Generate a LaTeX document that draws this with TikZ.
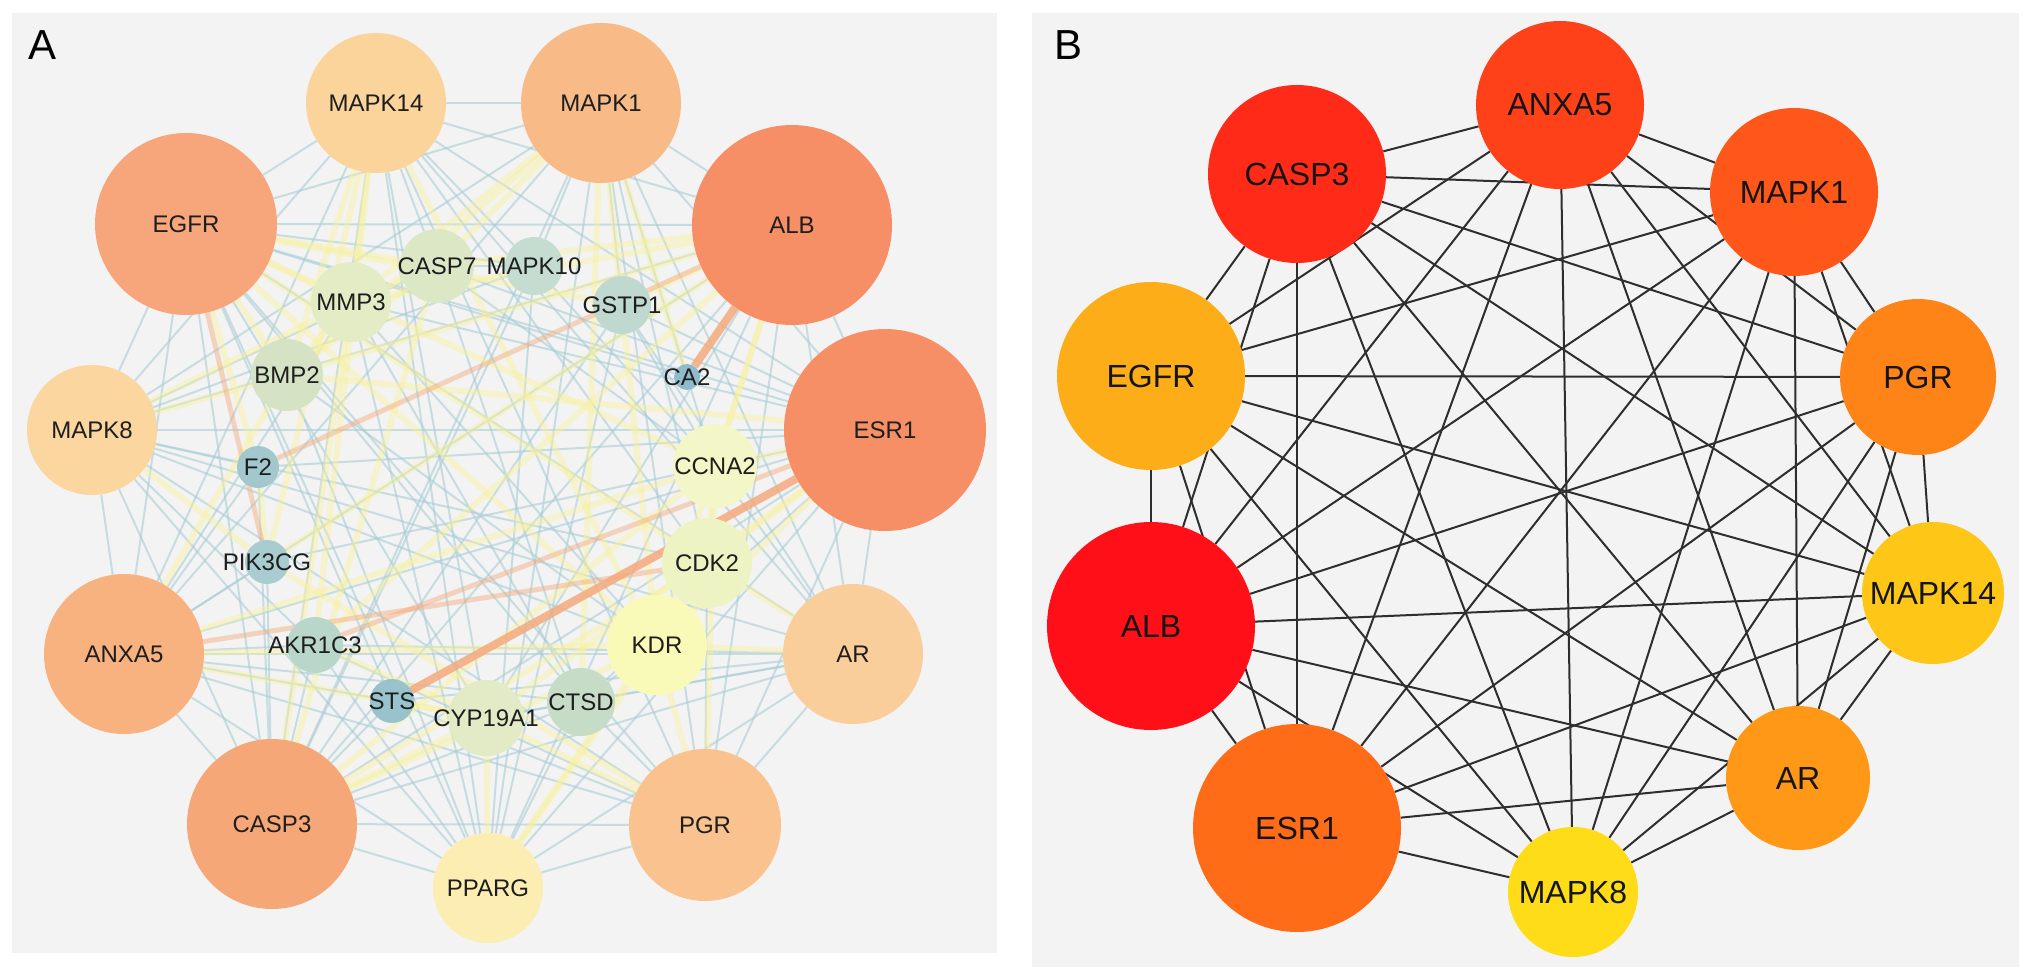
\documentclass[tikz,border=0pt]{standalone}
\usepackage{fontspec}
\setmainfont{Liberation Sans}

\pgfdeclarelayer{bg}
\pgfdeclarelayer{links}
\pgfsetlayers{bg,links,main}

% panel colours
\definecolor{panelgray}{HTML}{F3F3F3}
\definecolor{txtA}{HTML}{1E1E1E}
\definecolor{txtB}{HTML}{151515}
\definecolor{lkblue}{HTML}{A9CDD6}
\definecolor{lkyel}{HTML}{F8F19E}
\definecolor{lkora}{HTML}{F5AA7C}
\definecolor{lkdark}{HTML}{2E2E2E}
% panel A nodes
\definecolor{cMapkXIV}{HTML}{FBD49C}
\definecolor{cMapkI}{HTML}{F8BB88}
\definecolor{cAlb}{HTML}{F68F66}
\definecolor{cEsr}{HTML}{F68F66}
\definecolor{cAr}{HTML}{FACE9A}
\definecolor{cPgr}{HTML}{F9C28E}
\definecolor{cPparg}{HTML}{FCEDB2}
\definecolor{cCasp}{HTML}{F6A777}
\definecolor{cAnxa}{HTML}{F7B280}
\definecolor{cMapkVIII}{HTML}{FBD69E}
\definecolor{cEgfr}{HTML}{F6A67A}
\definecolor{cCaspVII}{HTML}{DCE7C6}
\definecolor{cMapkX}{HTML}{C4DDD0}
\definecolor{cMmp}{HTML}{E4ECC6}
\definecolor{cGstp}{HTML}{BFD9D1}
\definecolor{cBmp}{HTML}{D5E3C4}
\definecolor{cCa}{HTML}{8FBCCB}
\definecolor{cF}{HTML}{A2C8CE}
\definecolor{cCcna}{HTML}{F3F6C6}
\definecolor{cPik}{HTML}{A8CCD0}
\definecolor{cCdk}{HTML}{EEF3C4}
\definecolor{cKdr}{HTML}{FAFAB8}
\definecolor{cAkr}{HTML}{B9D6CA}
\definecolor{cSts}{HTML}{98C2CC}
\definecolor{cCyp}{HTML}{E2EBC6}
\definecolor{cCtsd}{HTML}{C6DCC6}
% panel B nodes
\definecolor{bAnxa}{HTML}{FF4119}
\definecolor{bCasp}{HTML}{FF2A17}
\definecolor{bMapkI}{HTML}{FF5719}
\definecolor{bEgfr}{HTML}{FDAD18}
\definecolor{bPgr}{HTML}{FF8418}
\definecolor{bAlb}{HTML}{FF1019}
\definecolor{bMapkXIV}{HTML}{FEC718}
\definecolor{bEsr}{HTML}{FF6C18}
\definecolor{bAr}{HTML}{FF9817}
\definecolor{bMapkVIII}{HTML}{FEDC18}

\newcommand{\nm}[1]{\makebox[0pt]{#1}}

\begin{document}
\begin{tikzpicture}[x=1pt,y=-1pt,
  gA/.style={circle, inner sep=0pt, minimum size=#1, text=txtA, font=\fontsize{24}{28}\selectfont},
  gB/.style={circle, inner sep=0pt, minimum size=#1, text=txtB, font=\fontsize{32}{38}\selectfont},
  panlab/.style={font=\fontsize{42}{50}\selectfont, text=black},
  lnkB/.style={draw=lkblue, line width=2pt, opacity=0.6},
  lnkY/.style={draw=lkyel, line width=6pt, opacity=0.45},
  lnkL/.style={draw=lkora, line width=5pt, opacity=0.45},
  lnkO/.style={draw=lkora, line width=8pt, opacity=0.85},
  lnkK/.style={draw=lkdark, line width=2pt}]

\useasboundingbox (0,0) rectangle (2031,979);
\begin{pgfonlayer}{bg}
\fill[white] (0,0) rectangle (2031,979);
\fill[panelgray] (12,13) rectangle (997,953);
\fill[panelgray] (1032,13) rectangle (2019,967);
\end{pgfonlayer}

\node[panlab] (labA) at (43,45) {A};
\node[panlab] (labB) at (1068,45) {B};

% A: outer hubs
\node[gA=140, fill=cMapkXIV] (aMAPK14) at (376,103) {\nm{MAPK14}};
\node[gA=160, fill=cMapkI] (aMAPK1) at (601,103) {\nm{MAPK1}};
\node[gA=200, fill=cAlb] (aALB) at (792,225) {\nm{ALB}};
\node[gA=202, fill=cEsr] (aESR1) at (885,430) {\nm{ESR1}};
\node[gA=140, fill=cAr] (aAR) at (853,654) {\nm{AR}};
\node[gA=152, fill=cPgr] (aPGR) at (705,825) {\nm{PGR}};
\node[gA=110, fill=cPparg] (aPPARG) at (488,888) {\nm{PPARG}};
\node[gA=170, fill=cCasp] (aCASP3) at (272,824) {\nm{CASP3}};
\node[gA=160, fill=cAnxa] (aANXA5) at (124,654) {\nm{ANXA5}};
\node[gA=130, fill=cMapkVIII] (aMAPK8) at (92,430) {\nm{MAPK8}};
\node[gA=182, fill=cEgfr] (aEGFR) at (186,224) {\nm{EGFR}};
% A: inner nodes
\node[gA=74, fill=cCaspVII] (aCASP7) at (437,266) {\nm{CASP7}};
\node[gA=58, fill=cMapkX] (aMAPK10) at (534,266) {\nm{MAPK10}};
\node[gA=80, fill=cMmp] (aMMP3) at (351,302) {\nm{MMP3}};
\node[gA=58, fill=cGstp] (aGSTP1) at (622,305) {\nm{GSTP1}};
\node[gA=72, fill=cBmp] (aBMP2) at (287,375) {\nm{BMP2}};
\node[gA=26, fill=cCa] (aCA2) at (687,377) {\nm{CA2}};
\node[gA=42, fill=cF] (aF2) at (258,467) {\nm{F2}};
\node[gA=84, fill=cCcna] (aCCNA2) at (715,466) {\nm{CCNA2}};
\node[gA=44, fill=cPik] (aPIK3CG) at (267,562) {\nm{PIK3CG}};
\node[gA=90, fill=cCdk] (aCDK2) at (707,563) {\nm{CDK2}};
\node[gA=100, fill=cKdr] (aKDR) at (657,645) {\nm{KDR}};
\node[gA=56, fill=cAkr] (aAKR1C3) at (315,645) {\nm{AKR1C3}};
\node[gA=44, fill=cSts] (aSTS) at (392,701) {\nm{STS}};
\node[gA=76, fill=cCyp] (aCYP19A1) at (486,718) {\nm{CYP19A1}};
\node[gA=68, fill=cCtsd] (aCTSD) at (581,702) {\nm{CTSD}};

% B: hub genes
\node[gB=168, fill=bAnxa] (bANXA5) at (1560,105) {\nm{ANXA5}};
\node[gB=178, fill=bCasp] (bCASP3) at (1297,174) {\nm{CASP3}};
\node[gB=168, fill=bMapkI] (bMAPK1) at (1794,192) {\nm{MAPK1}};
\node[gB=188, fill=bEgfr] (bEGFR) at (1151,376) {\nm{EGFR}};
\node[gB=156, fill=bPgr] (bPGR) at (1918,377) {\nm{PGR}};
\node[gB=208, fill=bAlb] (bALB) at (1151,626) {\nm{ALB}};
\node[gB=142, fill=bMapkXIV] (bMAPK14) at (1933,593) {\nm{MAPK14}};
\node[gB=208, fill=bEsr] (bESR1) at (1297,828) {\nm{ESR1}};
\node[gB=144, fill=bAr] (bAR) at (1798,778) {\nm{AR}};
\node[gB=130, fill=bMapkVIII] (bMAPK8) at (1573,892) {\nm{MAPK8}};

\begin{pgfonlayer}{links}
% A: hub to hub
\foreach \u [count=\i] in {MAPK14,MAPK1,ALB,ESR1,AR,PGR,PPARG,CASP3,ANXA5,MAPK8,EGFR}
  \foreach \v [count=\j] in {MAPK14,MAPK1,ALB,ESR1,AR,PGR,PPARG,CASP3,ANXA5,MAPK8,EGFR}
    {\ifnum\j>\i \draw[lnkB] (a\u) -- (a\v);\fi}
% A: weak links
\foreach \p/\q in {MAPK14/CASP7, MAPK14/MAPK10, MAPK14/CDK2, MAPK14/CYP19A1,
  MAPK1/MAPK10, MAPK1/GSTP1, MAPK1/CCNA2, MAPK1/CDK2, ALB/CYP19A1,
  ESR1/CTSD, ESR1/GSTP1, ESR1/MMP3, ESR1/CASP7, ESR1/PIK3CG, ESR1/F2,
  AR/CCNA2, AR/CYP19A1, AR/AKR1C3, AR/STS, AR/CTSD, AR/GSTP1,
  PGR/CDK2, PGR/CTSD, PGR/STS, PGR/AKR1C3,
  PPARG/CTSD, PPARG/AKR1C3, PPARG/MAPK10, PPARG/GSTP1, PPARG/MMP3, PPARG/BMP2,
  CASP3/CTSD, CASP3/AKR1C3, CASP3/STS, CASP3/PIK3CG, CASP3/MAPK10, CASP3/F2, CASP3/GSTP1,
  ANXA5/CTSD, ANXA5/AKR1C3, ANXA5/PIK3CG, ANXA5/F2, ANXA5/STS, ANXA5/MMP3,
  MAPK8/MAPK10, MAPK8/CASP7, MAPK8/F2, MAPK8/CDK2, MAPK8/KDR, MAPK8/AKR1C3,
  EGFR/MAPK10, EGFR/CTSD, EGFR/CYP19A1, EGFR/CA2, EGFR/STS,
  CTSD/CYP19A1, KDR/CTSD, CASP7/MAPK10, CASP7/CTSD, MMP3/CTSD, MMP3/KDR,
  BMP2/KDR, GSTP1/CCNA2, MAPK10/CCNA2, CASP7/CCNA2}
  \draw[lnkB] (a\p) -- (a\q);
% A: medium links
\foreach \p/\q in {MAPK14/MMP3, MAPK14/BMP2, MAPK14/KDR, MAPK14/AKR1C3, MAPK14/PIK3CG,
  MAPK1/CASP7, MAPK1/MMP3, MAPK1/KDR, MAPK1/CTSD, MAPK1/BMP2, MAPK1/CA2,
  ALB/GSTP1, ALB/CCNA2, ALB/MMP3, ALB/CASP7, ALB/BMP2, ALB/PIK3CG, ALB/KDR, ALB/AKR1C3,
  ESR1/CCNA2, ESR1/CDK2, ESR1/CYP19A1, ESR1/KDR, ESR1/BMP2,
  AR/CDK2, AR/KDR, PGR/KDR, PGR/CYP19A1, PGR/CCNA2, PGR/PIK3CG,
  PPARG/CYP19A1, PPARG/KDR, PPARG/CDK2,
  CASP3/CASP7, CASP3/CYP19A1, CASP3/KDR, CASP3/CDK2, CASP3/MMP3, CASP3/CCNA2,
  ANXA5/KDR, ANXA5/CYP19A1, ANXA5/BMP2, ANXA5/CCNA2,
  MAPK8/BMP2, MAPK8/MMP3, MAPK8/PIK3CG,
  EGFR/MMP3, EGFR/BMP2, EGFR/CASP7, EGFR/KDR, EGFR/CDK2, EGFR/CCNA2, EGFR/GSTP1, EGFR/F2,
  CDK2/CCNA2, CDK2/KDR, CASP7/MMP3, MMP3/BMP2, CASP7/BMP2, CYP19A1/STS,
  CYP19A1/AKR1C3, F2/PIK3CG}
  \draw[lnkY] (a\p) -- (a\q);
% A: strong links
\foreach \p/\q in {EGFR/PIK3CG, ALB/F2, ANXA5/CDK2, ESR1/AKR1C3}
  \draw[lnkL] (a\p) -- (a\q);
\draw[lnkO] (aALB) -- (aCA2);
\draw[lnkO] (aESR1) -- (aSTS);

% B: every pair linked
\foreach \u [count=\i] in {ANXA5,CASP3,MAPK1,EGFR,PGR,ALB,MAPK14,ESR1,AR,MAPK8}
  \foreach \v [count=\j] in {ANXA5,CASP3,MAPK1,EGFR,PGR,ALB,MAPK14,ESR1,AR,MAPK8}
    {\ifnum\j>\i \draw[lnkK] (b\u) -- (b\v);\fi}
\end{pgfonlayer}
\end{tikzpicture}
\end{document}
